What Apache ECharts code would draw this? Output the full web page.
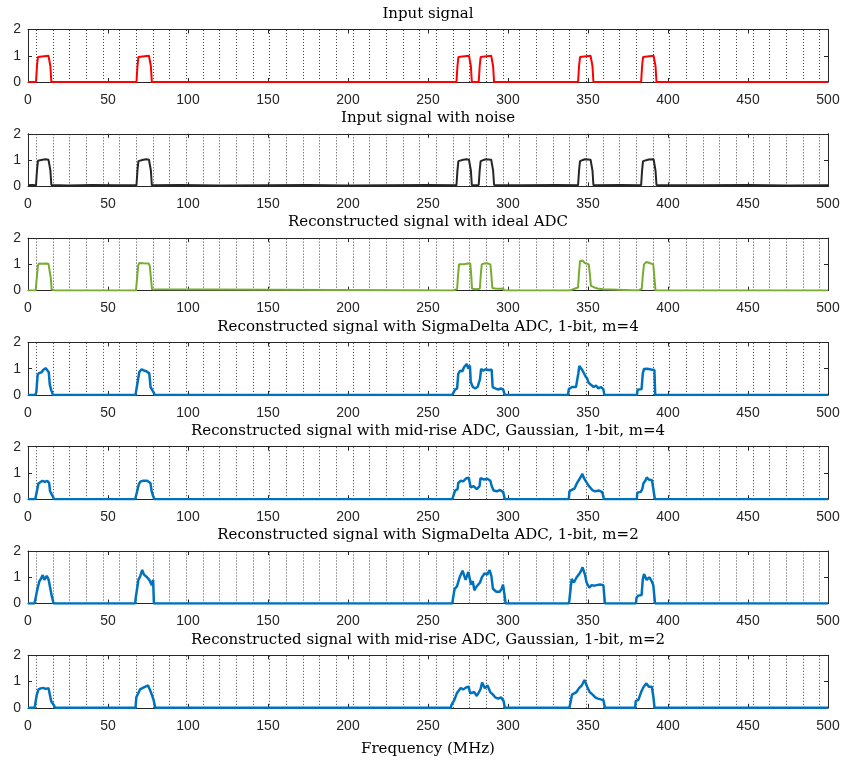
<!DOCTYPE html>
<html>
<head>
<meta charset="utf-8">
<script src="https://cdn.jsdelivr.net/npm/echarts@6/dist/echarts.min.js"></script>
<style>
html,body{margin:0;padding:0;background:#fff;}
#chart{width:845px;height:764px;}
</style>
</head>
<body>
<div id="chart"></div>
<script>
// ---------------- data ----------------
const panelTitles = [
  "Input signal",
  "Input signal with noise",
  "Reconstructed signal with ideal ADC",
  "Reconstructed signal with SigmaDelta ADC, 1-bit, m=4",
  "Reconstructed signal with mid-rise ADC, Gaussian, 1-bit, m=4",
  "Reconstructed signal with SigmaDelta ADC, 1-bit, m=2",
  "Reconstructed signal with mid-rise ADC, Gaussian, 1-bit, m=2"
];
const xAxisTitle = "Frequency (MHz)";
const xRange = [0, 500];
const xTickStep = 50;
const yRange = [0, 2];
const yTickStep = 1;

// channel boundaries (dotted vertical lines), MHz
const channelEdges = [5.21, 15.63, 26.04, 36.46, 46.88, 57.29, 67.71, 78.13, 88.54, 98.96,
  109.38, 119.79, 130.21, 140.63, 151.04, 161.46, 171.88, 182.29, 192.71, 203.13,
  213.54, 223.96, 234.38, 244.79, 255.21, 265.63, 276.04, 286.46, 296.88, 307.29,
  317.71, 328.13, 338.54, 348.96, 359.38, 369.79, 380.21, 390.63, 401.04, 411.46,
  421.88, 432.29, 442.71, 453.13, 463.54, 473.96, 484.38, 494.79];

// [frequency MHz, amplitude]
const inputSignal = [
  [0,0],[5.0,0],[5.6,0.6],[6.2,0.95],[6.8,1],[12.8,1],[13.4,0.95],[14.0,0.6],[14.6,0],
  [67.8,0],[68.4,0.6],[69.0,0.95],[69.6,1],[75.6,1],[76.2,0.95],[76.8,0.6],[77.4,0],
  [267.8,0],[268.4,0.6],[269.0,0.95],[269.6,1],[275.6,1],[276.2,0.95],[276.8,0.6],[277.4,0],
  [281.7,0],[282.3,0.6],[282.9,0.95],[283.5,1],[289.5,1],[290.1,0.95],[290.7,0.6],[291.3,0],
  [343.8,0],[344.4,0.6],[345.0,0.95],[345.6,1],[351.6,1],[352.2,0.95],[352.8,0.6],[353.4,0],
  [383.2,0],[383.8,0.6],[384.4,0.95],[385.0,1],[391.0,1],[391.6,0.95],[392.2,0.6],[392.8,0],
  [500,0]
];

const noisySignal = [
  [0,0.04],[2.5,0.05],[5.0,0.04],[5.6,0.6],[6.2,0.97],[6.8,1.02],[9,1.01],[11,1.03],[12.8,1.01],[13.4,0.96],[14.0,0.6],[14.6,0.05],
  [25,0.03],[40,0.05],[55,0.04],[67.8,0.04],[68.4,0.6],[69.0,0.96],[69.6,1.02],[72,1.01],[74,1.03],[75.6,1.01],[76.2,0.96],[76.8,0.6],[77.4,0.04],
  [95,0.05],[120,0.03],[150,0.04],[175,0.05],[200,0.03],[225,0.04],[250,0.05],
  [267.8,0.04],[268.4,0.6],[269.0,0.96],[269.6,1.02],[272,1.01],[274,1.03],[275.6,1.01],[276.2,0.96],[276.8,0.6],[277.4,0.04],
  [281.7,0.05],[282.3,0.6],[282.9,0.96],[283.5,1.02],[286,1.03],[289.5,1.01],[290.1,0.96],[290.7,0.6],[291.3,0.05],
  [310,0.04],[330,0.05],
  [343.8,0.04],[344.4,0.6],[345.0,0.96],[345.6,1.01],[348,1.03],[351.6,1.01],[352.2,0.96],[352.8,0.6],[353.4,0.04],
  [370,0.05],
  [383.2,0.04],[383.8,0.6],[384.4,0.96],[385.0,1.03],[388,1.02],[391.0,1.03],[391.6,0.96],[392.2,0.6],[392.8,0.05],
  [420,0.04],[450,0.05],[475,0.03],[500,0.04]
];

const idealAdc = [
  [0,0],[4.8,0.01],[5.5,0.5],[6.2,0.95],[6.8,1.03],[9,1.02],[11,1.03],[12.8,1.02],[13.5,0.95],[14.2,0.5],[14.8,0.04],[16,0.01],[17,0],
  [67.5,0],[68.2,0.5],[68.9,0.97],[69.6,1.05],[72,1.04],[75.4,1.03],[76.1,0.95],[76.8,0.5],[77.5,0.05],[78.5,0],
  [265.6,0],[266,0.04],[268.2,0.06],[268.8,0.6],[269.4,1.0],[270.5,1.03],[272.5,1.0],[275,1.03],[276.4,1.04],[277,0.6],[277.5,0.07],[280,0.05],
  [282.4,0.07],[283.0,0.6],[283.6,1.0],[285,1.03],[287,1.04],[289,1.0],[289.6,0.6],[290.2,0.1],[292,0.08],[295,0.07],[297,0.08],[297.6,0],
  [338.5,0],[339,0.05],[342,0.08],[343.8,0.12],[344.4,0.7],[345,1.12],[346.5,1.15],[348,1.05],[350.5,1.0],[351.2,0.6],[351.8,0.18],[354,0.12],[356,0.08],[359.5,0.05],[360,0],
  [381.2,0],[381.6,0.05],[383.6,0.07],[384.3,0.6],[385,1.0],[386.5,1.09],[388.5,1.05],[390.8,1.0],[391.5,0.5],[392.2,0],
  [500,0]
];

const sigmaDeltaM4 = [
  [0,0],[4.5,0],[5.2,0.1],[6.0,0.75],[6.8,0.83],[8.5,0.86],[9.5,0.95],[11,1.02],[12.2,0.96],[13,0.86],[13.6,0.4],[14.4,0.2],[15.6,0],
  [67.2,0],[68,0.3],[69.6,0.88],[71,0.97],[72.5,0.93],[74,0.9],[75.8,0.82],[76.6,0.3],[78.5,0.1],[79.2,0],
  [265.2,0],[265.6,0.05],[266.9,0.2],[268.2,0.25],[268.9,0.8],[270,0.92],[271.5,0.9],[272.5,1.05],[274.2,1.18],[275.2,1.0],[276.2,1.12],[276.7,0.5],
  [278,0.3],[279.5,0.25],[281,0.3],[282.5,0.6],[283.2,0.99],[284.5,0.92],[286,0.98],[287.5,0.95],[289.8,0.96],[290.4,0.3],[292,0.25],[294,0.2],[295.5,0.25],[297,0.2],[298,0],
  [337.5,0],[338,0.22],[340,0.3],[342.5,0.3],[343.9,0.8],[344.6,1.1],[345.6,1.05],[346.4,0.95],[347.5,0.98],[348.5,0.7],[349.5,0.62],[350.5,0.45],[352,0.38],[353.5,0.3],[355,0.35],[356.5,0.25],[358,0.3],[359.6,0.22],[360.2,0],
  [380.6,0],[381,0.2],[383.5,0.22],[384.2,0.8],[385,0.99],[387,1.0],[389.5,0.97],[391.5,0.95],[392,0],
  [500,0]
];

const midRiseM4 = [
  [0,0],[4.5,0],[5.2,0.2],[6.5,0.6],[7.5,0.66],[9,0.7],[10.5,0.66],[12,0.7],[13.2,0.62],[13.8,0.3],[15,0.25],[15.6,0.1],[16.2,0],
  [67,0],[67.8,0.2],[69.3,0.58],[70.5,0.68],[72,0.7],[73.1,0.76],[74.5,0.7],[76.5,0.62],[77.3,0.3],[78.3,0.1],[79,0],
  [265.2,0],[265.6,0.05],[266.9,0.33],[268.5,0.38],[268.9,0.62],[270.5,0.7],[272,0.68],[274,0.8],[275.5,0.82],[276.2,0.6],[276.7,0.45],[278.5,0.5],[280.5,0.38],
  [282.2,0.5],[282.8,0.8],[283.5,0.85],[285,0.75],[287,0.78],[289,0.7],[289.8,0.5],[291,0.33],[293,0.3],[295,0.35],[297,0.27],[298,0],
  [338,0],[338.4,0.3],[340,0.36],[341.5,0.4],[343,0.6],[344.5,0.75],[346.5,0.96],[347.5,0.8],[348.5,0.7],[350.6,0.5],[352.7,0.35],[354.5,0.3],[357,0.33],[358.9,0.27],[360,0],
  [380.5,0],[380.8,0.25],[383,0.28],[384,0.4],[384.6,0.6],[386,0.72],[386.7,0.83],[388,0.75],[390,0.72],[390.8,0.7],[391.8,0],
  [500,0]
];

const sigmaDeltaM2 = [
  [0,0],[4.0,0],[4.4,0.1],[5.7,0.5],[7.1,0.85],[8.2,0.95],[9.2,1.08],[10.2,0.9],[11.7,1.05],[12.8,0.93],[13.8,1.0],[14.8,0.3],[16,0],
  [67,0],[67.3,0.2],[69,0.9],[70.2,1.05],[71.4,1.28],[72.5,1.1],[73.5,1.15],[74.4,1.0],[75.8,0.9],[76.6,0.85],[77.4,0.7],[78.2,0.9],[78.7,0],
  [265.2,0],[265.4,0.1],[266.6,0.55],[268.1,0.65],[269.8,1.0],[271.6,1.25],[272.3,1.2],[273.5,0.9],[275.2,1.2],[276.9,0.72],[278,0.85],[279,0.5],[280,0.62],[281.2,0.69],
  [282.5,0.8],[283.7,1.0],[285.4,1.15],[287,1.1],[288.5,1.27],[289.6,1.05],[290.6,0.56],[292.7,0.45],[294.8,0.45],[296,0.55],[296.9,0.72],[297.9,0.3],[298.5,0],
  [338,0],[338.3,0.1],[339.8,0.94],[341.2,0.8],[342.9,1.0],[344.2,1.1],[345.3,1.2],[346.6,1.38],[348.1,1.1],[349.1,0.8],[350.8,0.6],[352.3,0.7],[354,0.68],[355.4,0.7],[357.5,0.72],[359.6,0.7],[360.6,0],
  [380,0],[380.3,0.22],[381.4,0.3],[383.5,0.32],[384.2,0.9],[385,1.12],[386.7,0.9],[388.3,1.0],[389.8,0.85],[390.8,0.7],[391.9,0],
  [500,0]
];

const midRiseM2 = [
  [0,0],[4.0,0],[4.4,0.1],[5.5,0.5],[6.7,0.71],[8,0.74],[9.4,0.76],[11,0.72],[12.8,0.75],[13.5,0.7],[14.5,0.25],[16.2,0.1],[16.8,0],
  [67.2,0],[67.7,0.4],[70,0.7],[71.5,0.75],[73.4,0.81],[75,0.85],[76.8,0.6],[78.5,0.3],[79.5,0],
  [264.3,0],[264.6,0.1],[266.5,0.3],[268,0.55],[270.4,0.75],[272,0.7],[274,0.78],[275.4,0.8],[276.4,0.55],[278.8,0.6],[280.5,0.45],
  [282.8,0.7],[283.8,0.96],[285.5,0.75],[287.2,0.85],[288.9,0.6],[290.6,0.5],[292,0.4],[293.9,0.35],[295.6,0.4],[297.3,0.25],[298,0],
  [338.4,0],[338.7,0.1],[340,0.5],[342.8,0.6],[344.4,0.75],[346.1,0.85],[347.8,1.06],[349.5,0.8],[351,0.6],[352.9,0.5],[354.5,0.4],[356.2,0.35],[358,0.32],[359.6,0.3],[360.6,0],
  [379.5,0],[379.8,0.25],[381.5,0.3],[383.2,0.6],[384.8,0.8],[386.5,0.93],[388,0.8],[389.2,0.75],[389.9,0.8],[390.9,0.4],[391.6,0],
  [500,0]
];

const panelSignals = [inputSignal, noisySignal, idealAdc, sigmaDeltaM4, midRiseM4, sigmaDeltaM2, midRiseM2];
const panelColors = ['#ff0000', '#262626', '#77ac30', '#0072bd', '#0072bd', '#0072bd', '#0072bd'];
const panelLineWidths = [2, 2, 2, 2.5, 2.5, 2.5, 2.5];

// ---------------- layout / style ----------------
const plotLeft = 28, plotRight = 17, firstTop = 29.5, panelStep = 104.3, plotHeight = 52.5;
const axisColor = '#262626';
const centerX = 428;
const serifFont = 'DejaVu Serif';

const chart = echarts.init(document.getElementById('chart'), null, {renderer: 'canvas'});

const grids = [], xAxes = [], yAxes = [], series = [], titles = [];
panelSignals.forEach((sig, i) => {
  const top = firstTop + panelStep * i;
  grids.push({left: plotLeft, right: plotRight, top: top, height: plotHeight, containLabel: false});
  const isLast = i === panelSignals.length - 1;
  const xBase = {
    gridIndex: i, type: 'value', min: xRange[0], max: xRange[1], interval: xTickStep,
    axisLine: {show: true, onZero: false, lineStyle: {color: axisColor, width: 1}},
    axisTick: {show: true, inside: true, length: 4, lineStyle: {color: axisColor}},
    splitLine: {show: false}
  };
  xAxes.push(Object.assign({}, xBase, {
    position: 'bottom',
    axisLabel: {show: true, margin: 11, fontFamily: 'Liberation Sans', fontSize: 14, color: axisColor},
    name: isLast ? xAxisTitle : '',
    nameLocation: 'middle', nameGap: 34,
    nameTextStyle: {fontFamily: serifFont, fontSize: 15, color: '#000'}
  }));
  xAxes.push(Object.assign({}, xBase, {position: 'top', axisLabel: {show: false}}));
  const yBase = {
    gridIndex: i, type: 'value', min: yRange[0], max: yRange[1], interval: yTickStep,
    axisLine: {show: true, onZero: false, lineStyle: {color: axisColor, width: 1}},
    axisTick: {show: true, inside: true, length: 4, lineStyle: {color: axisColor}},
    splitLine: {show: false}
  };
  yAxes.push(Object.assign({}, yBase, {
    position: 'left',
    axisLabel: {show: true, margin: 7, fontFamily: 'Liberation Sans', fontSize: 14, color: axisColor}
  }));
  yAxes.push(Object.assign({}, yBase, {position: 'right', axisLabel: {show: false}}));

  series.push({
    type: 'line', xAxisIndex: i * 2, yAxisIndex: i * 2, data: sig,
    showSymbol: false, symbol: 'none', clip: true,
    lineStyle: {color: panelColors[i], width: panelLineWidths[i]},
    itemStyle: {color: panelColors[i]},
    z: 5,
    markLine: {
      silent: true, symbol: ['none', 'none'], animation: false,
      label: {show: false},
      lineStyle: {type: [1, 2], color: '#444', width: 1},
      data: channelEdges.map(v => ({xAxis: v}))
    }
  });

  titles.push({
    text: panelTitles[i], left: centerX, top: top - 23, textAlign: 'center', padding: 0,
    textStyle: {fontFamily: serifFont, fontSize: 15, fontWeight: 'normal', color: '#000'}
  });
});

chart.setOption({
  animation: false,
  backgroundColor: '#fff',
  title: titles,
  grid: grids,
  xAxis: xAxes,
  yAxis: yAxes,
  series: series
});
</script>
</body>
</html>
